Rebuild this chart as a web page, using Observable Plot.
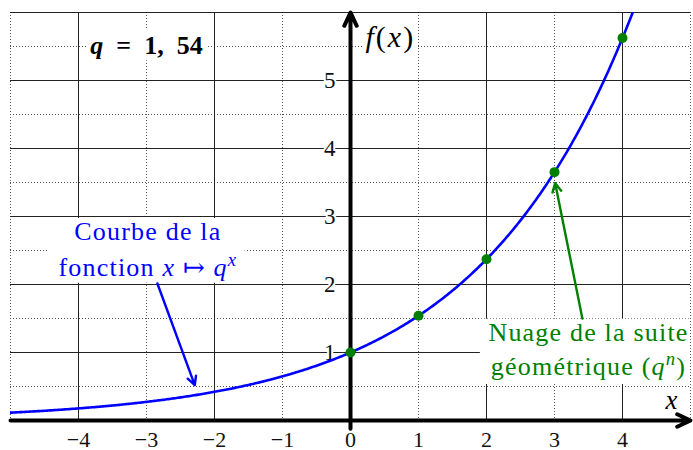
<!DOCTYPE html>
<html>
<head>
<meta charset="utf-8">
<script src="https://cdn.jsdelivr.net/npm/d3@7"></script>
<script src="https://cdn.jsdelivr.net/npm/@observablehq/plot@0.6"></script>
<style>
  body { margin: 0; background: #fff; }
  svg { display: block; }
  #chart text, #chart tspan {
    white-space: pre;
    font-family: "Liberation Serif", "Times New Roman", "DejaVu Serif", serif;
  }
</style>
</head>
<body>
<div id="chart"></div>
<script>
// Raison de la suite géométrique et de la fonction exponentielle associée
const q = 1.54;

// Fenêtre du repère
const xDomain = [-5, 5];
const yDomain = [0, 6];

// Graduations
const xTicks = [-4, -3, -2, -1, 0, 1, 2, 3, 4];
const yTicks = [1, 2, 3, 4, 5];

// Quadrillage : traits pleins et pointillés
const gridXSolid = [-4, -2, 2, 4];
const gridXDotted = [-5, -3, -1, 1, 3, 5];
const gridYSolid = [1, 2, 3, 4, 5, 6];
const gridYDotted = [0.5, 1.5, 2.5, 3.5, 4.5, 5.5];

// Rangs de la suite (q^n)
const seqIndex = [0, 1, 2, 3, 4];

// Abscisses d'échantillonnage de la courbe x ↦ q^x
const curveX = d3.range(xDomain[0], xDomain[1] + 1e-9, 0.02);

// Annotations (textes, cadres blancs et flèches)
const curveNoteLines = [
  [{t: "Courbe de la"}],
  [{t: "fonction "}, {t: "x", it: true}, {t: " ↦ "}, {t: "q", it: true}, {t: "x", it: true, sup: true}]
];
const curveNoteY = [2.65, 2.13];
const curveNoteX = -2.98;

const seqNoteLines = [
  [{t: "Nuage de la suite"}],
  [{t: "géométrique ("}, {t: "q", it: true}, {t: "n", it: true, sup: true}, {t: ")"}]
];
const seqNoteY = [1.176, 0.662];
const seqNoteX = 3.5;

const qLabel = [{t: "q", it: true, bold: true}, {t: "\u2002=\u20021,\u200254", bold: true}];
const fLabel = [{t: "f", it: true}, {t: "("}, {t: "x", it: true}, {t: ")"}];
const xLabel = [{t: "x", it: true}];

const whiteBoxes = [
  {x1: -4.45, x2: -1.55, y1: 2.02, y2: 2.97},
  {x1: 1.91, x2: 5.0, y1: 0.53, y2: 1.49},
  {x1: -3.88, x2: -2.12, y1: 5.29, y2: 5.76},
  {x1: 0.19, x2: 0.97, y1: 5.33, y2: 5.87}
];

const curveArrow = [{x1: -2.84, y1: 2.015, x2: -2.29, y2: 0.52}];
const seqArrow = [{x1: 3.41, y1: 1.5, x2: 3.01, y2: 3.49}];

// Texte enrichi : italique, gras, exposants, espacement
const rich = new Map();
function richText(segments, spacing = 0) {
  const plain = segments.map((s) => s.t).join("");
  rich.set(plain, {segments, spacing});
  return plain;
}

const blue = "#0000ff";
const green = "#008000";
const minus = (v) => String(v).replace("-", "\u2212");

const noteTexts = [
  ...curveNoteLines.map((l, i) => ({x: curveNoteX, y: curveNoteY[i], text: richText(l, 1.2), color: blue})),
  ...seqNoteLines.map((l, i) => ({x: seqNoteX, y: seqNoteY[i], text: richText(l, 1.2), color: green}))
];

const chart = Plot.plot({
  width: 693,
  height: 450,
  marginLeft: 10,
  marginRight: 3,
  marginTop: 12,
  marginBottom: 30,
  x: {domain: xDomain, axis: null},
  y: {domain: yDomain, axis: null},
  style: {background: "white", overflow: "visible"},
  marks: [
    // quadrillage
    Plot.ruleY(gridYDotted, {stroke: "#555", strokeWidth: 1, strokeDasharray: "1,2"}),
    Plot.ruleX(gridXDotted, {stroke: "#555", strokeWidth: 1, strokeDasharray: "1,2"}),
    Plot.ruleY(gridYSolid, {stroke: "#222", strokeWidth: 1}),
    Plot.ruleX(gridXSolid, {stroke: "#222", strokeWidth: 1}),

    // cadres blancs des étiquettes
    Plot.rect(whiteBoxes, {x1: "x1", x2: "x2", y1: "y1", y2: "y2", fill: "white"}),

    // graduations
    Plot.text(yTicks, {
      x: 0, y: (d) => d, text: (d) => String(d), dx: -15, textAnchor: "end",
      fill: "#111", stroke: "white", strokeWidth: 4, paintOrder: "stroke", fontSize: 23
    }),
    Plot.text(xTicks, {
      x: (d) => d, y: 0, text: minus, dy: 19,
      fill: "#111", fontSize: 22
    }),

    // axes
    Plot.arrow([0], {
      x1: xDomain[0], x2: xDomain[1], y1: 0, y2: 0,
      stroke: "black", strokeWidth: 4, headLength: 5.5, headAngle: 50
    }),
    Plot.arrow([0], {
      x1: 0, x2: 0, y1: -0.12, y2: yDomain[1],
      stroke: "black", strokeWidth: 4, headLength: 5.5, headAngle: 50
    }),

    // courbe de x ↦ q^x
    Plot.line(curveX, {
      x: (d) => d, y: (d) => q ** d,
      stroke: blue, strokeWidth: 2.6, clip: true
    }),

    // nuage de points de la suite (q^n)
    Plot.dot(seqIndex, {
      x: (d) => d, y: (d) => q ** d,
      r: 5, fill: green, stroke: "none"
    }),

    // flèches d'annotation
    Plot.arrow(curveArrow, {
      x1: "x1", y1: "y1", x2: "x2", y2: "y2",
      stroke: blue, strokeWidth: 2.4, headLength: 6, headAngle: 55
    }),
    Plot.arrow(seqArrow, {
      x1: "x1", y1: "y1", x2: "x2", y2: "y2",
      stroke: green, strokeWidth: 2.4, headLength: 6, headAngle: 55
    }),

    // textes
    Plot.text(noteTexts, {
      x: "x", y: "y", text: "text", fill: "color",
      lineAnchor: "bottom", fontSize: 26
    }),
    Plot.text([richText(qLabel)], {
      x: -3.0, y: 5.397, text: (d) => d, lineAnchor: "bottom", fontSize: 26, fill: "black"
    }),
    Plot.text([richText(fLabel, 2)], {
      x: 0.22, y: 5.5, text: (d) => d, textAnchor: "start", lineAnchor: "bottom", fontSize: 30, fill: "black"
    }),
    Plot.text([richText(xLabel)], {
      x: 4.72, y: 0.176, text: (d) => d, lineAnchor: "bottom", fontSize: 27, fill: "black"
    })
  ]
});

// Reconstruction des textes mathématiques en tspans
d3.select(chart).selectAll("text").each(function () {
  const entry = rich.get(this.textContent);
  if (!entry) return;
  const t = d3.select(this);
  t.text(null);
  if (entry.spacing) t.style("letter-spacing", `${entry.spacing}px`);
  let shift = 0;
  for (const s of entry.segments) {
    const sp = t.append("tspan").text(s.t);
    if (s.it) sp.attr("font-style", "italic");
    if (s.bold) sp.attr("font-weight", "bold");
    const target = s.sup ? -10 : 0;
    if (target !== shift) {
      sp.attr("dy", target - shift);
      shift = target;
    }
    if (s.sup) sp.attr("font-size", "0.72em");
  }
});

document.getElementById("chart").append(chart);
</script>
</body>
</html>
